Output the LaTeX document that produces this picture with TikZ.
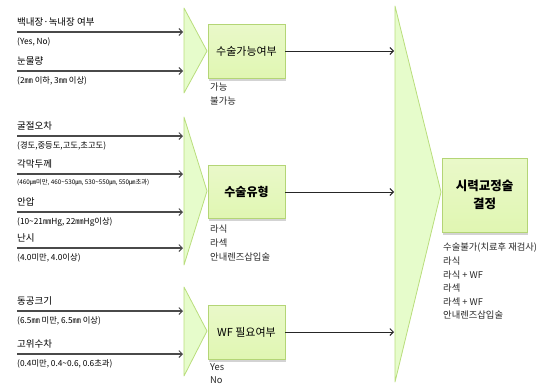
\documentclass[tikz,border=0pt]{standalone}
\usepackage{fontspec}
\setmainfont{Noto Sans CJK KR}
\usetikzlibrary{arrows.meta,shadows}
\definecolor{trifill}{HTML}{E6FCCB}
\definecolor{triline}{HTML}{B9DD7C}
\definecolor{boxfill}{HTML}{E0F6B2}
\definecolor{boxline}{HTML}{B4D576}
\definecolor{arrowgray}{HTML}{4A4A4A}
\begin{document}
\begin{tikzpicture}[x=1pt, y=-1pt]
    \tikzstyle{funnel} = [fill=trifill, draw=triline, line width=0.8pt, line join=round]
    \tikzstyle{stage} = [rectangle, draw=boxline, line width=0.8pt, top color=boxfill!70!white, bottom color=boxfill, inner sep=0pt, drop shadow={opacity=0.35, shadow xshift=1pt, shadow yshift=-2.5pt}]
    \tikzstyle{inarrow} = [draw=arrowgray, line width=1.1pt, -{Straight Barb[length=3.5pt, width=7pt, line width=0.9pt]}]
    \tikzstyle{outarrow} = [draw=black!85, line width=0.9pt, -{Straight Barb[length=3.5pt, width=7pt, line width=0.9pt]}]
    \tikzstyle{factorlabel} = [anchor=west, inner sep=0pt, font=\fontsize{9.5}{11}\selectfont]
    \tikzstyle{rangelabel} = [anchor=west, inner sep=0pt, font=\fontsize{8.3}{10}\selectfont]
    \tikzstyle{resultlabel} = [anchor=north west, inner sep=0pt, align=left, font=\fontsize{9.3}{13.6}\selectfont, text=black!85]

    \useasboundingbox (0,0) rectangle (545,386);

    % funnels
    \draw [funnel] (184,8) -- (207,51) -- (184,93) -- cycle;
    \draw [funnel] (184,117) -- (207,191) -- (184,265) -- cycle;
    \draw [funnel] (184,287) -- (207,331) -- (184,376) -- cycle;
    \draw [funnel] (395,6) -- (441,192) -- (395,382) -- cycle;

    % stages
    \node [stage, minimum width=77pt, minimum height=54pt, font=\fontsize{11}{12}\selectfont] (s1) at (246.5,51) {수술가능여부};
    \node [stage, minimum width=77pt, minimum height=53pt, font=\fontsize{12}{13}\selectfont\bfseries] (s2) at (246.5,192) {수술유형};
    \node [stage, minimum width=77pt, minimum height=54pt, font=\fontsize{11}{12}\selectfont] (s3) at (246.5,332) {WF 필요여부};
    \node [stage, minimum width=85pt, minimum height=74pt, align=center, font=\fontsize{12.5}{18}\selectfont\bfseries] (s4) at (484.5,195) {시력교정술\\결정};

    % inputs
    \foreach \y/\n/\r [count=\i] in {
        32/백내장·녹내장 여부/(Yes{,} No),
        71/눈물량/(2㎜ 이하{,} 3㎜ 이상),
        136/굴절오차/(경도{,}중등도{,}고도{,}초고도),
        174/각막두께/,
        212/안압/(10\textasciitilde21㎜Hg{,} 22㎜Hg이상),
        248/난시/(4.0미만{,} 4.0이상),
        311/동공크기/(6.5㎜ 미만{,} 6.5㎜ 이상),
        354/고위수차/(0.4미만{,} 0.4\textasciitilde0.6{,} 0.6초과)} {
        \coordinate (a\i) at (17,\y);
        \coordinate (b\i) at (183,\y);
        \draw [inarrow] (a\i) -- (b\i);
        \node [factorlabel] (n\i) at (17,\y-10) {\n};
        \node [rangelabel] (r\i) at (17,\y+10) {\r};
    }
    \node [rangelabel, font=\fontsize{6.3}{7}\selectfont] (r4x) at (17,183) {(460㎛미만, 460\textasciitilde530㎛, 530\textasciitilde550㎛, 550㎛초과)};

    % outputs
    \coordinate (e1) at (394,51);
    \coordinate (e2) at (394,192);
    \coordinate (e3) at (394,332);
    \draw [outarrow] (s1) -- (e1);
    \draw [outarrow] (s2) -- (e2);
    \draw [outarrow] (s3) -- (e3);

    \node [resultlabel] (o1) at (210,83) {가능\\불가능};
    \node [resultlabel] (o2) at (210,225) {라식\\라섹\\안내렌즈삽입술};
    \node [resultlabel] (o3) at (210,363) {Yes\\No};
    \node [resultlabel] (o4) at (443,243) {수술불가(치료후 재검사)\\라식\\라식 + WF\\라섹\\라섹 + WF\\안내렌즈삽입술};
\end{tikzpicture}
\end{document}
